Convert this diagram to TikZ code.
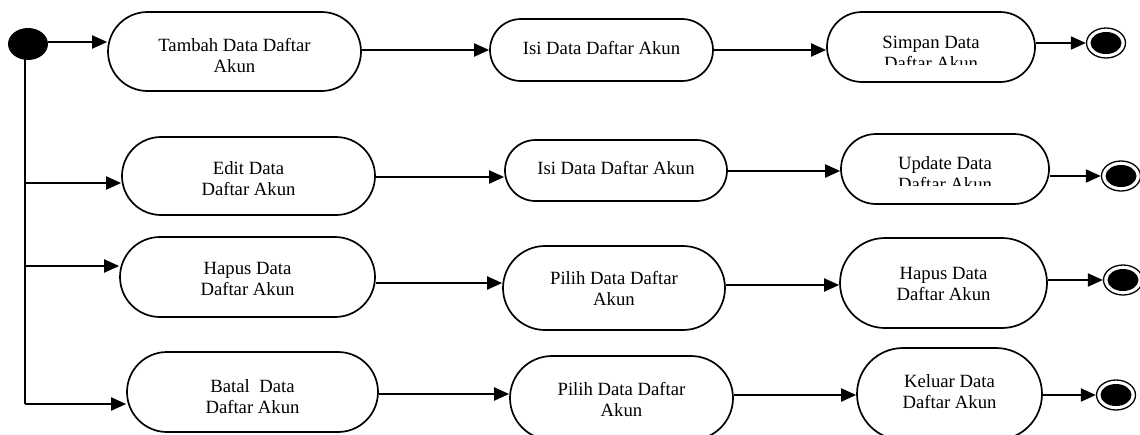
\documentclass[tikz,border=0pt]{standalone}
\usepackage{fontspec}
\setmainfont{Liberation Serif}
\usetikzlibrary{arrows.meta,shapes.geometric,shapes.misc}
\begin{document}
\begin{tikzpicture}[x=1pt,y=-1pt,
  act/.style={draw, line width=1.7pt, rounded rectangle, inner sep=0pt},
  lbl/.style={inner sep=0pt, align=center, font=\fontsize{18.7}{21}\selectfont},
  arr/.style={line width=2pt, -{Triangle[length=15pt,width=13pt]}},
  ln/.style={line width=2pt},
  endo/.style={draw, ellipse, line width=1.3pt, inner sep=0pt, minimum width=39pt, minimum height=30pt},
  endi/.style={fill, ellipse, inner sep=0pt, minimum width=31pt, minimum height=22pt}]
\useasboundingbox (0,0) rectangle (1140,434);
\clip (0,0) rectangle (1140,434);

% start
\node[fill, ellipse, inner sep=0pt, minimum width=40pt, minimum height=32pt] (start) at (28,44) {};

% row 1
\node[act, minimum width=253pt, minimum height=79pt] (A1) at (234.5,51.5) {};
\node[lbl] (A1t) at (234.5,56) {Tambah Data Daftar\\Akun};
\node[act, minimum width=223pt, minimum height=62pt] (B1) at (601.5,50) {};
\node[lbl] (B1t) at (601.5,48) {Isi Data Daftar Akun};
\node[act, minimum width=208pt, minimum height=70pt] (C1) at (931,47) {};
\begin{scope}
  \clip (827,12) rectangle (1035,64);
  \node[lbl] (C1t) at (931,53) {Simpan Data\\Daftar Akun};
\end{scope}
\node[endo] (E1) at (1106,43) {};
\node[endi] (E1i) at (E1.center) {};

% row 2
\node[act, minimum width=253pt, minimum height=78pt] (A2) at (248.5,176) {};
\node[lbl] (A2t) at (248.5,179) {Edit Data\\Daftar Akun};
\node[act, minimum width=222pt, minimum height=61pt] (B2) at (616,170.5) {};
\node[lbl] (B2t) at (616,168) {Isi Data Daftar Akun};
\node[act, minimum width=208pt, minimum height=70pt] (C2) at (945,169) {};
\begin{scope}
  \clip (841,134) rectangle (1049,185);
  \node[lbl] (C2t) at (945,174) {Update Data\\Daftar Akun};
\end{scope}
\node[endo] (E2) at (1121,176) {};
\node[endi] (E2i) at (E2.center) {};

% row 3
\node[act, minimum width=255pt, minimum height=80pt] (A3) at (247.5,277) {};
\node[lbl] (A3t) at (247.5,279) {Hapus Data\\Daftar Akun};
\node[act, minimum width=222pt, minimum height=84pt] (B3) at (614,288) {};
\node[lbl] (B3t) at (614,289) {Pilih Data Daftar\\Akun};
\node[act, minimum width=207pt, minimum height=90pt] (C3) at (943.5,283) {};
\node[lbl] (C3t) at (943.5,283.5) {Hapus Data\\Daftar Akun};
\node[endo] (E3) at (1123,280) {};
\node[endi] (E3i) at (E3.center) {};

% row 4
\node[act, minimum width=251pt, minimum height=80pt] (A4) at (252.5,392) {};
\node[lbl] (A4t) at (252.5,397) {Batal\ \ Data\\Daftar Akun};
\node[act, minimum width=223pt, minimum height=84pt] (B4) at (621.5,398) {};
\node[lbl] (B4t) at (621.5,400) {Pilih Data Daftar\\Akun};
\node[act, minimum width=185pt, minimum height=92pt] (C4) at (949.5,394) {};
\node[lbl] (C4t) at (949.5,392) {Keluar Data\\Daftar Akun};
\node[endo] (E4) at (1116,395) {};
\node[endi] (E4i) at (E4.center) {};

% junctions on the vertical line
\coordinate (j0) at (25,58);
\coordinate (j1) at (48,42);
\coordinate (j2) at (25,183);
\coordinate (j3) at (25,266);
\coordinate (j4) at (25,404);

\draw[ln] (j0) -- (j4);
\draw[arr] (j1) -- (j1 -| A1.west);
\draw[arr] (j2) -- (j2 -| A2.west);
\draw[arr] (j3) -- (j3 -| A3.west);
\draw[arr] (j4) -- (j4 -| A4.west);

% row connectors
\draw[arr] (A1.east |- B1.west) -- (B1.west);
\draw[arr] (B1.east) -- (B1.east -| C1.west);
\draw[arr] (C1.east |- E1.west) -- (E1.west);

\draw[arr] (A2.east |- 0,177) -- (B2.west |- 0,177);
\draw[arr] (B2.east |- 0,171) -- (C2.west |- 0,171);
\draw[arr] (C2.east |- E2.west) -- (E2.west);

\draw[arr] (A3.east |- 0,283) -- (B3.west |- 0,283);
\draw[arr] (B3.east |- 0,285) -- (C3.west |- 0,285);
\draw[arr] (C3.east |- E3.west) -- (E3.west);

\draw[arr] (A4.east |- 0,394) -- (B4.west |- 0,394);
\draw[arr] (B4.east |- 0,395) -- (C4.west |- 0,395);
\draw[arr] (C4.east |- E4.west) -- (E4.west);
\end{tikzpicture}
\end{document}
